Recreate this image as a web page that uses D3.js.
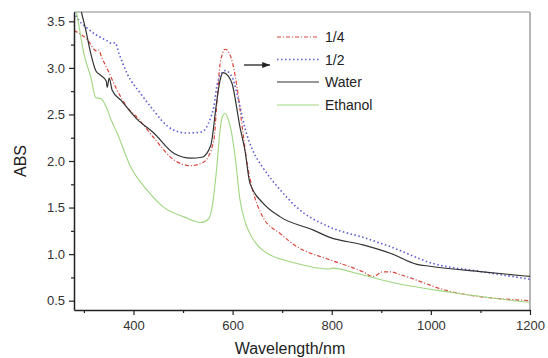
<html>
<head>
<script src="https://d3js.org/d3.v7.min.js"></script>
<style>
  body { margin: 0; background: #fff; }
  text { font-family: "Liberation Sans", Arial, sans-serif; }
</style>
</head>
<body>
<svg id="chart" width="548" height="358"></svg>
<script>
// wavelength (nm) / absorbance pairs
const ratio14 = [[280,3.40],[306,3.31],[326,3.18],[330,3.19],[336,3.11],[347,2.99],[367,2.76],[387,2.58],[407,2.47],[441,2.25],[482,2.01],[516,1.95],[542,1.99],[562,2.22],[568,2.60],[575,3.05],[585,3.20],[594,3.15],[600,3.05],[609,2.79],[621,2.30],[630,1.95],[639,1.72],[661,1.40],[696,1.22],[730,1.08],[796,0.94],[863,0.81],[883,0.76],[903,0.81],[918,0.81],[938,0.78],[1039,0.60],[1200,0.50]];
const ratio12 = [[280,3.60],[286,3.54],[306,3.43],[326,3.35],[347,3.29],[357,3.26],[363,3.27],[371,3.15],[387,2.94],[415,2.72],[441,2.54],[456,2.44],[482,2.33],[508,2.30],[536,2.31],[556,2.47],[562,2.58],[570,2.85],[585,2.97],[599,2.90],[615,2.58],[625,2.35],[641,2.11],[661,1.93],[696,1.69],[730,1.50],[796,1.29],[863,1.18],[918,1.08],[1004,0.90],[1105,0.81],[1200,0.73]];
const water = [[280,4.00],[295,3.60],[304,3.40],[314,3.15],[324,2.97],[334,2.92],[345,2.86],[347,2.79],[351,2.89],[357,2.76],[375,2.65],[407,2.45],[441,2.30],[482,2.08],[516,2.03],[538,2.04],[556,2.17],[567,2.60],[574,2.85],[581,2.95],[590,2.92],[599,2.83],[615,2.36],[625,2.11],[635,1.76],[661,1.55],[696,1.40],[762,1.26],[796,1.18],[863,1.10],[918,1.01],[972,0.89],[998,0.87],[1105,0.81],[1200,0.76]];
const ethanol = [[280,3.75],[290,3.45],[300,3.15],[314,2.90],[324,2.68],[334,2.67],[345,2.58],[355,2.44],[367,2.30],[395,1.93],[427,1.69],[462,1.50],[502,1.40],[536,1.34],[552,1.38],[560,1.55],[568,1.93],[574,2.30],[579,2.47],[585,2.51],[591,2.45],[598,2.30],[605,2.05],[615,1.58],[625,1.35],[635,1.22],[661,1.04],[730,0.90],[796,0.84],[800,0.85],[863,0.775],[918,0.70],[1039,0.59],[1200,0.48]];

const seriesNames = ["1/4", "1/2", "Water", "Ethanol"];
const seriesData = [ratio14, ratio12, water, ethanol];
const colors = ["#d9443a", "#5b5bd2", "#333333", "#9fd67f"];
const dashes = ["4,2,1,2", "1.5,2.5", null, null];
const widths = [1.2, 1.6, 1.2, 1.1];

const xMajor = [400, 600, 800, 1000, 1200];
const xMinor = [300, 500, 700, 900, 1100];
const yMajor = [0.5, 1.0, 1.5, 2.0, 2.5, 3.0, 3.5];
const yMinor = [0.75, 1.25, 1.75, 2.25, 2.75, 3.25];

const svg = d3.select("#chart");
const m = {left: 74, right: 530, top: 12, bottom: 310};

const x = d3.scaleLinear().domain([280, 1200]).range([m.left, m.right]);
const y = d3.scaleLinear().domain([0.4, 3.6]).range([m.bottom, m.top]);

svg.append("defs").append("clipPath").attr("id", "clip")
  .append("rect").attr("x", m.left).attr("y", m.top)
  .attr("width", m.right - m.left).attr("height", m.bottom - m.top);

// frame (top and right in grey)
svg.append("line").attr("x1", m.left).attr("x2", m.right).attr("y1", m.top).attr("y2", m.top)
  .attr("stroke", "#8a8a8a").attr("stroke-width", 1.2);
svg.append("line").attr("x1", m.right).attr("x2", m.right).attr("y1", m.top).attr("y2", m.bottom)
  .attr("stroke", "#b5b5b5").attr("stroke-width", 2);

const line = d3.line().x(d => x(d[0])).y(d => y(d[1])).curve(d3.curveMonotoneX);

const plot = svg.append("g").attr("clip-path", "url(#clip)");
seriesData.forEach((s, i) => {
  plot.append("path").datum(s)
    .attr("d", line)
    .attr("fill", "none")
    .attr("stroke", colors[i])
    .attr("stroke-width", widths[i])
    .attr("stroke-dasharray", dashes[i]);
});

// axes
function styleAxis(g) {
  g.select(".domain").attr("stroke", "#222").attr("stroke-width", 1.5);
  g.selectAll(".tick line").attr("stroke", "#222").attr("stroke-width", 1.2);
  g.selectAll(".tick text").attr("fill", "#333").style("font-size", "13px")
    .style("font-family", "'Liberation Sans', Arial, sans-serif");
}

const gx = svg.append("g").attr("transform", `translate(0,${m.bottom})`)
  .call(d3.axisBottom(x).tickValues(xMajor).tickSize(5).tickPadding(6).tickSizeOuter(0).tickFormat(d3.format("d")));
styleAxis(gx);
const gxm = svg.append("g").attr("transform", `translate(0,${m.bottom})`)
  .call(d3.axisBottom(x).tickValues(xMinor).tickSize(3).tickFormat(""));
styleAxis(gxm);
gxm.select(".domain").remove();

const gy = svg.append("g").attr("transform", `translate(${m.left},0)`)
  .call(d3.axisLeft(y).tickValues(yMajor).tickSize(5).tickPadding(4).tickSizeOuter(0).tickFormat(d3.format(".1f")));
styleAxis(gy);
const gym = svg.append("g").attr("transform", `translate(${m.left},0)`)
  .call(d3.axisLeft(y).tickValues(yMinor).tickSize(3).tickFormat(""));
styleAxis(gym);
gym.select(".domain").remove();

// axis titles
svg.append("text").attr("x", 290).attr("y", 354).attr("text-anchor", "middle")
  .attr("fill", "#222").style("font-size", "16px").text("Wavelength/nm");
svg.append("text").attr("transform", "translate(26,161) rotate(-90)").attr("text-anchor", "middle")
  .attr("fill", "#222").style("font-size", "16px").text("ABS");

// legend
const legend = svg.append("g");
seriesNames.forEach((name, i) => {
  const ly = [37, 59.5, 82, 105][i];
  legend.append("line").attr("x1", 277).attr("x2", 319).attr("y1", ly).attr("y2", ly)
    .attr("stroke", colors[i]).attr("stroke-width", widths[i]).attr("stroke-dasharray", dashes[i]);
  legend.append("text").attr("x", 325).attr("y", ly + 5).attr("fill", "#222")
    .style("font-size", "14px").text(name);
});

// arrow
svg.append("defs").append("marker").attr("id", "arrow")
  .attr("viewBox", "0 0 10 10").attr("refX", 10).attr("refY", 5)
  .attr("markerWidth", 7).attr("markerHeight", 6).attr("orient", "auto")
  .append("path").attr("d", "M0,1L10,5L0,9Z").attr("fill", "#222");
svg.append("line").attr("x1", 244).attr("x2", 270).attr("y1", 65).attr("y2", 65)
  .attr("stroke", "#222").attr("stroke-width", 1.3).attr("marker-end", "url(#arrow)");
</script>
</body>
</html>
